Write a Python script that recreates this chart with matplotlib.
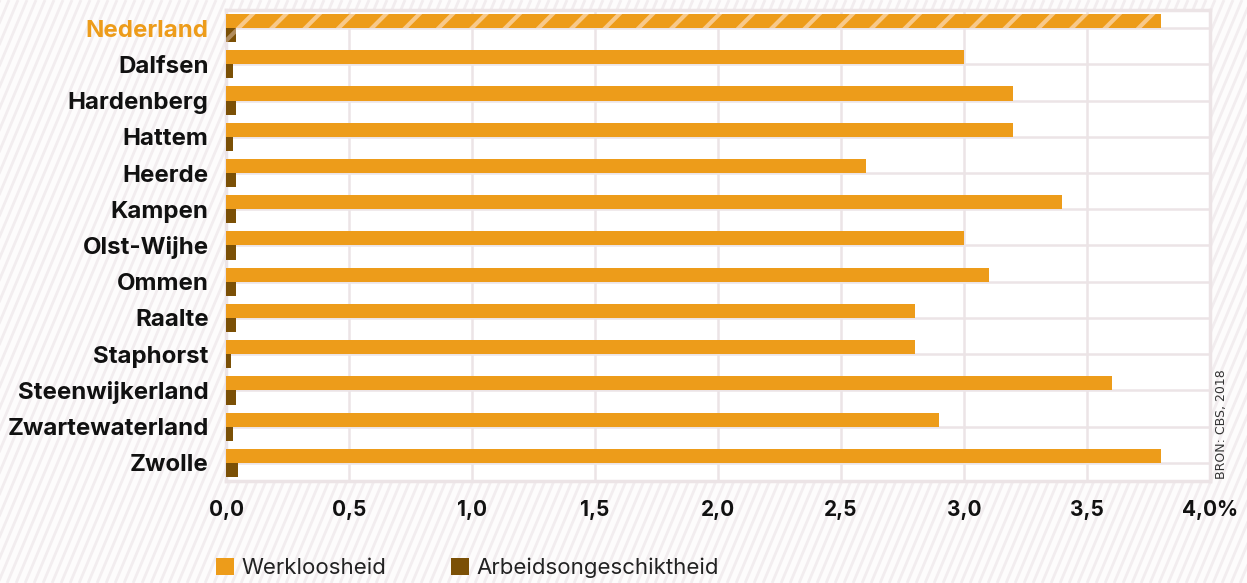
import numpy as np
import matplotlib
matplotlib.use("Agg")
import matplotlib.pyplot as plt
from matplotlib.collections import LineCollection
from matplotlib.patches import Patch

plt.rcParams['font.family'] = ['Inter', 'DejaVu Sans']
plt.rcParams['hatch.linewidth'] = 3.0

# Data (percentages)
gemeenten = ["Nederland", "Dalfsen", "Hardenberg", "Hattem", "Heerde", "Kampen",
             "Olst-Wijhe", "Ommen", "Raalte", "Staphorst", "Steenwijkerland",
             "Zwartewaterland", "Zwolle"]
werkloosheid = [3.8, 3.0, 3.2, 3.2, 2.6, 3.4, 3.0, 3.1, 2.8, 2.8, 3.6, 2.9, 3.8]
arbeidsongeschiktheid = [0.04, 0.03, 0.04, 0.03, 0.04, 0.04, 0.04, 0.04, 0.04,
                         0.02, 0.04, 0.03, 0.05]
x_ticks = [0.0, 0.5, 1.0, 1.5, 2.0, 2.5, 3.0, 3.5, 4.0]
x_ticklabels = ["0,0", "0,5", "1,0", "1,5", "2,0", "2,5", "3,0", "3,5", "4,0%"]

ORANGE = "#ed9c1a"
BROWN = "#7b5006"
GRID = "#ece4e6"

W, H = 1247, 583
fig = plt.figure(figsize=(W / 100, H / 100), dpi=100)
fig.patch.set_facecolor("#fdfcfc")

# Striped page background
segs = []
slope_dx = H * 0.42
for x0 in np.arange(-slope_dx, W + 10, 9):
    segs.append([(x0 / W, 0), ((x0 + slope_dx) / W, 1)])
bg = LineCollection(segs, colors="#f2edef", linewidths=2.0,
                    transform=fig.transFigure, zorder=-10)
fig.add_artist(bg)

left, right, top, bottom = 226, 1210, 10, 481
ax = fig.add_axes([left / W, 1 - bottom / H, (right - left) / W, (bottom - top) / H])
ax.set_facecolor("white")

y = np.arange(len(gemeenten))
bh = 0.39

bars_w = ax.barh(y - bh / 2, werkloosheid, height=bh, color=ORANGE,
                 linewidth=0, zorder=3)
bars_a = ax.barh(y + bh / 2, arbeidsongeschiktheid, height=bh, color=BROWN,
                 linewidth=0, zorder=3)
# National reference values are shown striped
bars_w[0].set_hatch('/')
bars_w[0].set_edgecolor("#f8c98a")
bars_w[0].set_linewidth(0)
bars_a[0].set_hatch('/')
bars_a[0].set_edgecolor("#b08c5c")
bars_a[0].set_linewidth(0)

ax.set_xlim(0, 4.0)
ax.set_ylim(len(gemeenten) - 0.5, -0.5)

ax.set_xticks(x_ticks)
ax.set_xticklabels(x_ticklabels, fontsize=15, fontweight="bold", color="#111111")
ax.set_yticks(y)
ax.set_yticklabels(gemeenten, fontsize=17.3, fontweight="bold", color="#111111")
ax.get_yticklabels()[0].set_color(ORANGE)
ax.tick_params(axis="both", length=0)
ax.tick_params(axis="x", pad=14)
ax.tick_params(axis="y", pad=12.5)

ax.grid(True, color=GRID, linewidth=1.8, zorder=0)
ax.set_axisbelow(True)
for s in ax.spines.values():
    s.set_color(GRID)
    s.set_linewidth(2.5)

handles = [Patch(facecolor=ORANGE, label="Werkloosheid"),
           Patch(facecolor=BROWN, label="Arbeidsongeschiktheid")]
leg = fig.legend(handles=handles, loc="center",
                 bbox_to_anchor=(467.5 / W, 1 - 568 / H), ncol=2, frameon=False,
                 fontsize=16, handlelength=0.8, handleheight=0.8,
                 handletextpad=0.35, columnspacing=2.9)
for t in leg.get_texts():
    t.set_color("#222222")

fig.text(1221 / W, 1 - 424 / H, "BRON: CBS, 2018", rotation=90, ha="center",
         va="center", fontsize=9, color="#333333", family=["DejaVu Sans"])

fig.savefig("out.png", dpi=100, facecolor=fig.get_facecolor())
